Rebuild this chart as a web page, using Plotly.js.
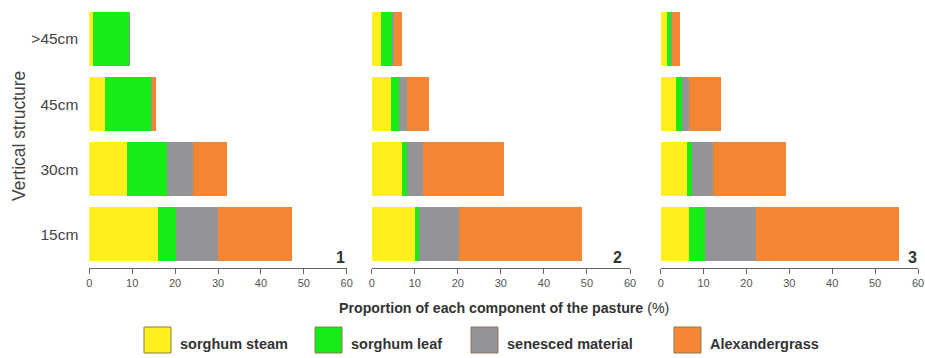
<!DOCTYPE html>
<html>
<head>
<meta charset="utf-8">
<script src="https://cdn.plot.ly/plotly-3.0.1.min.js"></script>
<style>html,body{margin:0;padding:0;background:#fff;}#chart{width:925px;height:358px;}</style>
</head>
<body>
<div id="chart"></div>
<script>
// Categories (bottom to top)
const categories = ['15cm', '30cm', '45cm', '>45cm'];
const seriesNames = ['sorghum steam', 'sorghum leaf', 'senesced material', 'Alexandergrass'];
const seriesColors = ['#FFEF1C', '#17EC17', '#949498', '#F58634'];
const panelLabels = ['1', '2', '3'];
const xTicks = [0, 10, 20, 30, 40, 50, 60];

// Panel 1
const p1_steam     = [15.9, 8.9, 3.6, 0.9];
const p1_leaf      = [4.2, 9.2, 10.7, 8.4];
const p1_senesced  = [9.9, 6.0, 0.4, 0.3];
const p1_alex      = [17.2, 7.9, 0.9, 0];
// Panel 2
const p2_steam     = [10.1, 7.0, 4.5, 2.1];
const p2_leaf      = [0.9, 1.2, 1.9, 2.6];
const p2_senesced  = [9.2, 3.8, 1.8, 0.5];
const p2_alex      = [28.6, 18.7, 5.0, 1.9];
// Panel 3
const p3_steam     = [6.5, 6.2, 3.6, 1.4];
const p3_leaf      = [3.8, 1.2, 1.4, 1.1];
const p3_senesced  = [11.9, 4.8, 1.6, 0.2];
const p3_alex      = [33.4, 17.0, 7.4, 1.7];

const panels = [
  [p1_steam, p1_leaf, p1_senesced, p1_alex],
  [p2_steam, p2_leaf, p2_senesced, p2_alex],
  [p3_steam, p3_leaf, p3_senesced, p3_alex]
];

const W = 925, H = 358;
const px = v => v / W;
const py = v => 1 - v / H;

const xDomains = [[px(89.3), px(346.7)], [px(371.7), px(630)], [px(660.7), px(918)]];
const yDomain = [py(268), py(6.5)];

const traces = [];
panels.forEach((series, pi) => {
  series.forEach((vals, si) => {
    traces.push({
      type: 'bar',
      orientation: 'h',
      y: categories,
      x: vals,
      name: seriesNames[si],
      marker: {color: seriesColors[si], line: {width: 0}},
      xaxis: pi === 0 ? 'x' : 'x' + (pi + 1),
      yaxis: 'y',
      showlegend: false,
      hoverinfo: 'x+y+name'
    });
  });
});

const font = 'Liberation Sans, Arial, sans-serif';
const xAxisBase = {
  range: [0, 60],
  tickvals: xTicks,
  ticktext: xTicks.map(String),
  ticks: 'outside',
  ticklen: 5,
  tickwidth: 1,
  tickcolor: '#666',
  showline: true,
  linecolor: '#666',
  linewidth: 1.2,
  showgrid: false,
  zeroline: false,
  fixedrange: true,
  anchor: 'y',
  tickfont: {family: font, size: 11, color: '#555'}
};

const layout = {
  width: W, height: H,
  margin: {l: 0, r: 0, t: 0, b: 0},
  paper_bgcolor: '#fff',
  plot_bgcolor: '#fff',
  barmode: 'stack',
  bargap: 0.17,
  showlegend: false,
  xaxis: Object.assign({}, xAxisBase, {domain: xDomains[0]}),
  xaxis2: Object.assign({}, xAxisBase, {domain: xDomains[1]}),
  xaxis3: Object.assign({}, xAxisBase, {domain: xDomains[2]}),
  yaxis: {
    domain: yDomain,
    type: 'category',
    categoryorder: 'array',
    categoryarray: categories,
    range: [-0.52, 3.5],
    anchor: 'x',
    showline: false,
    showgrid: false,
    zeroline: false,
    ticks: '',
    ticklabelstandoff: 10,
    fixedrange: true,
    tickfont: {family: font, size: 15.5, color: '#444'}
  },
  annotations: [],
  shapes: []
};

// Y-axis title
layout.annotations.push({
  xref: 'paper', yref: 'paper', x: px(19), y: py(136),
  text: 'Vertical structure', textangle: -90, showarrow: false,
  xanchor: 'center', yanchor: 'middle',
  font: {family: font, size: 17.5, color: '#444'}
});
// X-axis title
layout.annotations.push({
  xref: 'paper', yref: 'paper', x: px(504), y: py(308),
  text: '<b>Proportion of each component of the pasture</b> (%)', showarrow: false,
  xanchor: 'center', yanchor: 'middle',
  font: {family: font, size: 14.2, color: '#333'}
});
// Panel numbers
const numX = [340, 617, 912];
panelLabels.forEach((lab, i) => {
  layout.annotations.push({
    xref: 'paper', yref: 'paper', x: px(numX[i]), y: py(257),
    text: '<b>' + lab + '</b>', showarrow: false,
    xanchor: 'center', yanchor: 'middle',
    font: {family: font, size: 16, color: '#333'}
  });
});
// Legend (swatches + labels)
const legSwatchX = [144, 315, 471, 674];
seriesNames.forEach((nm, i) => {
  const x0 = legSwatchX[i];
  layout.shapes.push({
    type: 'rect', xref: 'paper', yref: 'paper',
    x0: px(x0), x1: px(x0 + 27), y0: py(353), y1: py(327),
    fillcolor: seriesColors[i],
    line: {color: '#8a7a55', width: 1}
  });
  layout.annotations.push({
    xref: 'paper', yref: 'paper', x: px(x0 + 34), y: py(344),
    text: '<b>' + nm + '</b>', showarrow: false,
    xanchor: 'left', yanchor: 'middle',
    font: {family: font, size: 14.5, color: '#333'}
  });
});

Plotly.newPlot('chart', traces, layout, {displayModeBar: false, staticPlot: true});
</script>
</body>
</html>
